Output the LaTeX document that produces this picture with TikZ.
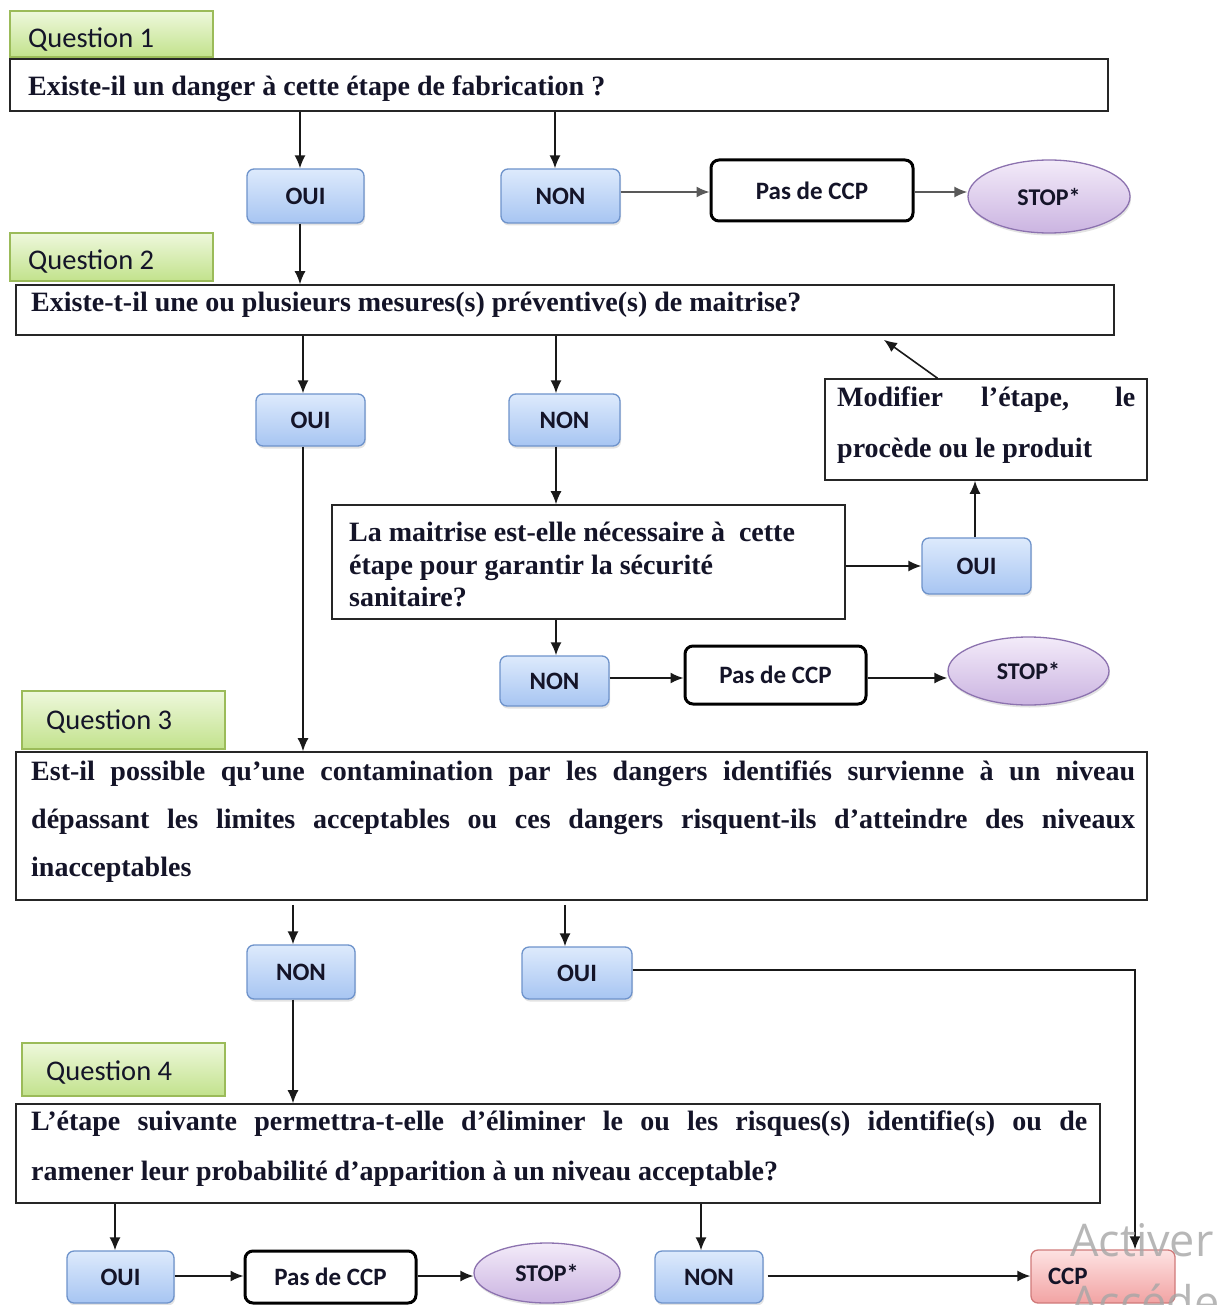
\documentclass[tikz,border=0pt]{standalone}
\usepackage{fontspec}
\setmainfont{Liberation Serif}
\newfontfamily\calibfont{Carlito}
\newfontfamily\wmfont{Open Sans}
\usetikzlibrary{arrows.meta,shapes.geometric,shadows,calc}

\definecolor{grA}{HTML}{EEF8DC}
\definecolor{grB}{HTML}{C2E28C}
\definecolor{grL}{HTML}{9BBB59}
\definecolor{blA}{HTML}{DDEAFC}
\definecolor{blB}{HTML}{A7C5F2}
\definecolor{blL}{HTML}{6E93CB}
\definecolor{puA}{HTML}{F3EBF9}
\definecolor{puB}{HTML}{CBB4E1}
\definecolor{puL}{HTML}{8C72AF}
\definecolor{rdA}{HTML}{FDE2E2}
\definecolor{rdB}{HTML}{F2A3A3}
\definecolor{rdL}{HTML}{D07A7A}
\definecolor{ink}{HTML}{141428}

\tikzset{
  qlabel/.style={draw=grL, line width=1.2pt, top color=grA, bottom color=grB, inner sep=0pt},
  qbox/.style={draw=black!85, line width=1.6pt, fill=white, inner sep=0pt},
  yn/.style={draw=blL, line width=1.3pt, rounded corners=7pt, top color=blA, bottom color=blB,
    drop shadow={opacity=0.22, shadow xshift=1pt, shadow yshift=-2.5pt},
    font=\calibfont\bfseries\fontsize{25}{29}\selectfont, text=ink, inner sep=0pt},
  nocp/.style={draw=black, line width=3pt, rounded corners=8pt, fill=white,
    font=\calibfont\bfseries\fontsize{25}{29}\selectfont, text=ink, inner sep=0pt},
  stopnode/.style={ellipse, draw=puL, line width=1.3pt, top color=puA, bottom color=puB,
    drop shadow={opacity=0.22, shadow xshift=1pt, shadow yshift=-2.5pt},
    font=\calibfont\bfseries\fontsize{24}{28}\selectfont, text=ink, inner sep=0pt},
  ccpbox/.style={draw=rdL, line width=1.3pt, rounded corners=7pt, top color=rdA, bottom color=rdB,
    font=\calibfont\bfseries\fontsize{25}{29}\selectfont, text=ink, inner ysep=0pt, inner xsep=17pt,
    align=left},
  arr/.style={-{Latex[length=13pt,width=11pt]}, line width=1.6pt, draw=black!90},
  garr/.style={arr, draw=black!65},
  sertext/.style={anchor=base west, inner sep=0pt, text=ink, font=\bfseries\fontsize{28}{33}\selectfont},
  labtext/.style={anchor=base west, inner sep=0pt, text=ink, font=\calibfont\fontsize{28.5}{33}\selectfont},
  wmtext/.style={anchor=base west, inner sep=0pt, text=black!35, opacity=0.8,
    font=\wmfont\fontsize{45}{54}\selectfont},
}

\begin{document}
\begin{tikzpicture}[x=1pt,y=-1pt]
\useasboundingbox (0,0) rectangle (1216,1305);
\clip (0,0) rectangle (1216,1305);
\fill[white] (0,0) rectangle (1216,1305);

% ---------- Question 1 ----------
\node[qlabel, minimum width=203pt, minimum height=46pt] (q1lab) at (111.5,34) {};
\node[labtext] at (28,48) {Question 1};
\node[qbox, minimum width=1098pt, minimum height=52pt] (q1) at (559,85) {};
\node[sertext] at (28,96) {Existe-il un danger à cette étape de fabrication ?};

\node[yn, minimum width=117pt, minimum height=54pt] (oui1) at (305.5,196) {OUI};
\node[yn, minimum width=119pt, minimum height=54pt] (non1) at (560.5,196) {NON};
\node[nocp, minimum width=202pt, minimum height=61pt] (pas1) at (812,190.5) {Pas de CCP};
\node[stopnode, minimum width=162pt, minimum height=73pt] (stop1) at (1049,196.5) {STOP*};

% ---------- Question 2 ----------
\node[qlabel, minimum width=203pt, minimum height=48pt] (q2lab) at (111.5,257) {};
\node[labtext] at (28,270) {Question 2};
\node[qbox, minimum width=1098pt, minimum height=50pt] (q2) at (565,310) {};
\node[sertext] at (31,312) {Existe-t-il une ou plusieurs mesures(s) préventive(s) de maitrise?};

\node[yn, minimum width=109pt, minimum height=52pt] (oui2) at (310.5,420) {OUI};
\node[yn, minimum width=111pt, minimum height=52pt] (non2) at (564.5,420) {NON};

\node[qbox, minimum width=322pt, minimum height=101pt] (mod) at (986,429.5) {};
\node[sertext] at (837,406) {\makebox[298pt][s]{Modifier l’étape, le}};
\node[sertext] at (837,457) {procède ou le produit};

\node[qbox, minimum width=513pt, minimum height=114pt] (lam) at (588.5,562) {};
\node[sertext] at (349,541) {La maitrise est-elle nécessaire à~ cette};
\node[sertext] at (349,574) {étape pour garantir la sécurité};
\node[sertext] at (349,606) {sanitaire?};

\node[yn, minimum width=109pt, minimum height=56pt] (oui3) at (976.5,566) {OUI};
\node[yn, minimum width=109pt, minimum height=50pt] (non3) at (554.5,681) {NON};
\node[nocp, minimum width=181pt, minimum height=58pt] (pas2) at (775.5,675) {Pas de CCP};
\node[stopnode, minimum width=161pt, minimum height=68pt] (stop2) at (1028.5,671) {STOP*};

% ---------- Question 3 ----------
\node[qlabel, minimum width=203pt, minimum height=58pt] (q3lab) at (123.5,720) {};
\node[labtext] at (46,729) {Question 3};
\node[qbox, minimum width=1131pt, minimum height=148pt] (q3) at (581.5,826) {};
\node[sertext] at (31,780) {\makebox[1104pt][s]{Est-il possible qu’une contamination par les dangers identifiés survienne à un niveau}};
\node[sertext] at (31,828) {\makebox[1104pt][s]{dépassant les limites acceptables ou ces dangers risquent-ils d’atteindre des niveaux}};
\node[sertext] at (31,876) {inacceptables};

\node[yn, minimum width=108pt, minimum height=54pt] (non4) at (301,972) {NON};
\node[yn, minimum width=110pt, minimum height=52pt] (oui4) at (577,973) {OUI};

% ---------- Question 4 ----------
\node[qlabel, minimum width=203pt, minimum height=53pt] (q4lab) at (123.5,1069.5) {};
\node[labtext] at (46,1080) {Question 4};
\node[qbox, minimum width=1084pt, minimum height=99pt] (q4) at (558,1153.5) {};
\node[sertext] at (31,1130) {\makebox[1056pt][s]{L’étape suivante permettra-t-elle d’éliminer le ou les risques(s) identifie(s) ou de}};
\node[sertext] at (31,1180) {ramener leur probabilité d’apparition à un niveau acceptable?};

\node[yn, minimum width=107pt, minimum height=52pt] (oui5) at (120.5,1277) {OUI};
\node[nocp, minimum width=171pt, minimum height=52pt] (pas3) at (330.5,1277) {Pas de CCP};
\node[stopnode, minimum width=146pt, minimum height=60pt] (stop3) at (547,1273) {STOP*};
\node[yn, minimum width=108pt, minimum height=52pt] (non5) at (709,1277) {NON};
\node[ccpbox, text width=110pt, minimum height=53pt] (ccp) at (1103,1276.5) {CCP};

% ---------- connector columns ----------
\coordinate (c300) at (300,0);
\coordinate (c555) at (555,0);
\coordinate (c303) at (303,0);
\coordinate (c556) at (556,0);
\coordinate (c975) at (975,0);
\coordinate (c293) at (293,0);
\coordinate (c565) at (565,0);
\coordinate (c1135) at (1135,0);
\coordinate (c115) at (115,0);
\coordinate (c701) at (701,0);

% ---------- connectors ----------
\draw[arr] (c300 |- q1.south) -- (c300 |- oui1.north);
\draw[arr] (c555 |- q1.south) -- (c555 |- non1.north);
\draw[garr] ([yshift=4pt]non1.east) -- ([yshift=4pt]non1.east -| pas1.west);
\draw[garr] ([yshift=-1.5pt]pas1.east) -- ([yshift=-1.5pt]pas1.east -| stop1.west);
\draw[arr] (c300 |- oui1.south) -- (c300 |- q2.north);

\draw[arr] (c303 |- q2.south) -- (c303 |- oui2.north);
\draw[arr] (c556 |- q2.south) -- (c556 |- non2.north);
\draw[arr] ($(mod.north west)!0.35!(mod.north east)$) -- ([yshift=-4pt]$(q2.south west)!0.79!(q2.south east)$);
\draw[arr] (c556 |- non2.south) -- (c556 |- lam.north);
\draw[arr] (lam.east |- oui3.west) -- (oui3.west);
\draw[arr] (c975 |- oui3.north) -- (c975 |- mod.south);
\draw[arr] (c556 |- lam.south) -- (c556 |- non3.north);
\draw[arr] ([yshift=3pt]non3.east) -- ([yshift=3pt]non3.east -| pas2.west);
\draw[arr] ([yshift=-3pt]pas2.east) -- ([yshift=-3pt]pas2.east -| stop2.west);

\draw[arr] (c303 |- oui2.south) -- (c303 |- q3.north);
\draw[arr] ([yshift=-4pt]c293 |- q3.south) -- (c293 |- non4.north);
\draw[arr] ([yshift=-4pt]c565 |- q3.south) -- (c565 |- oui4.north);
\draw[arr] ([yshift=3pt]oui4.east) -- ([yshift=3pt]oui4.east -| c1135) -- (c1135 |- ccp.north);

\draw[arr] (c293 |- non4.south) -- (c293 |- q4.north);
\draw[arr] (c115 |- q4.south) -- (c115 |- oui5.north);
\draw[arr] (c701 |- q4.south) -- (c701 |- non5.north);
\draw[arr] ([yshift=1pt]oui5.east) -- ([yshift=1pt]oui5.east -| pas3.west);
\draw[arr] ([yshift=1pt]pas3.east) -- ([yshift=1pt]pas3.east -| stop3.west);
\draw[arr] ([xshift=4pt,yshift=1pt]non5.east) -- ([yshift=1pt]non5.east -| ccp.west);

% ---------- activation watermark ----------
\node[wmtext] at (1070,1256) {Activer};
\node[wmtext] at (1070,1318) {Accédez};
\end{tikzpicture}
\end{document}
